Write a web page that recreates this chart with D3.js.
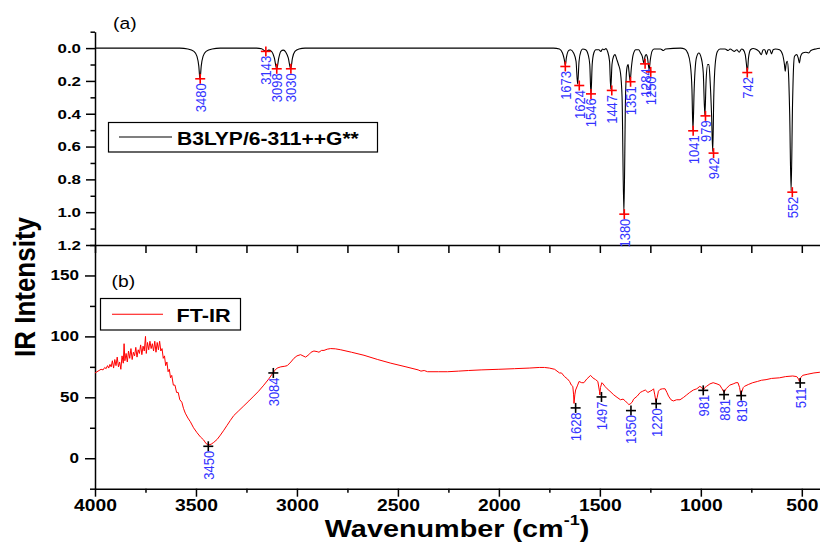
<!DOCTYPE html>
<html><head><meta charset="utf-8">
<script src="https://cdn.jsdelivr.net/npm/d3@7"></script>
<style>
html,body{margin:0;padding:0;background:#fff;}
svg{display:block;}
</style></head>
<body><svg id="chart" width="820" height="544"></svg>
<script>
// ---------------- DATA ----------------
// (a) computed B3LYP spectrum: [wavenumber, intensity]
const spectrumA = [
[4000,0],[3580,0],[3540,0.005],[3510,0.02],[3495,0.05],[3486,0.11],[3480,0.19],[3474,0.11],[3465,0.05],[3450,0.02],[3420,0.005],[3380,0],
[3200,0],[3175,0.004],[3162,0.015],[3154,0.022],[3140,0.012],[3126,0.02],[3112,0.06],[3100,0.126],[3090,0.06],[3080,0.02],[3067,0.012],[3055,0.025],[3043,0.06],[3031,0.126],[3022,0.06],[3010,0.02],[2990,0.005],[2960,0],
[1730,0],[1700,0.005],[1685,0.03],[1676,0.07],[1671,0.105],[1666,0.06],[1655,0.015],[1645,0.01],[1630,0.03],[1618,0.08],[1610,0.22],[1603,0.08],[1594,0.02],[1585,0.005],[1570,0.01],[1558,0.04],[1550,0.1],[1544,0.28],[1538,0.1],[1530,0.03],[1520,0.01],[1505,0.01],[1495,0.02],[1487,0.005],[1478,0.01],[1470,0.003],[1462,0.02],[1452,0.08],[1446,0.25],[1440,0.1],[1432,0.05],[1425,0.04],[1416,0.07],[1408,0.1],[1398,0.15],[1390,0.3],[1381,1.01],[1373,0.3],[1366,0.12],[1360,0.1],[1356,0.14],[1350,0.2],[1344,0.12],[1335,0.04],[1322,0.01],[1308,0.01],[1298,0.03],[1290,0.05],[1282,0.09],[1276,0.05],[1270,0.04],[1264,0.06],[1256,0.13],[1250,0.07],[1242,0.02],[1232,0.005],[1200,0.005],[1185,0.015],[1175,0.005],[1100,0],
[1080,0.005],[1065,0.03],[1052,0.1],[1044,0.25],[1039,0.5],[1033,0.25],[1022,0.06],[1010,0.03],[998,0.06],[988,0.15],[980,0.41],[974,0.2],[966,0.1],[960,0.1],[954,0.2],[947,0.4],[941,0.63],[936,0.3],[929,0.1],[918,0.02],[905,0.005],[880,0.005],[865,0.015],[855,0.005],[835,0.02],[822,0.01],[810,0.025],[798,0.005],[790,0.01],[780,0.04],[774,0.1],[770,0.15],[764,0.06],[754,0.01],[740,0.002],
[730,0.005],[712,0.02],[700,0.04],[692,0.01],[683,0.01],[675,0.04],[667,0.01],[658,0.01],[650,0.035],[642,0.01],[630,0.005],[610,0.01],[595,0.04],[586,0.1],[582,0.14],[578,0.1],[572,0.08],[566,0.15],[560,0.4],[553,0.87],[546,0.35],[541,0.12],[536,0.05],[525,0.04],[518,0.06],[512,0.09],[506,0.05],[496,0.03],[480,0.025],[467,0.03],[455,0.015],[430,0.005],[400,0]
];
// (b) experimental FT-IR spectrum: [wavenumber, intensity]
const spectrumB = [
[4000,70],[3985,71.5],[3970,73],[3960,72.5],[3952,74.5],[3945,73.5],[3938,76],[3932,74],[3926,77],[3920,75],[3914,80],[3908,74],[3902,81],[3896,76],[3890,83],[3884,75],[3878,79],[3872,73],[3866,84],[3860,78],[3856,94],[3852,80],[3846,86],[3840,79],[3834,88],[3828,82],[3822,90],[3816,81],[3810,87],[3804,84],[3798,91],[3792,83],[3786,89],[3780,86],[3774,93],[3768,85],[3762,92],[3756,88],[3750,100],[3746,86],[3740,95],[3734,89],[3728,96],[3722,90],[3716,94],[3710,88],[3704,96],[3698,87],[3692,95],[3686,89],[3680,96],[3674,88],[3668,90],[3662,82],[3656,84],[3650,76],[3644,79],[3638,71],[3632,73],[3626,66],[3620,68],[3612,60],[3604,60],[3596,54],[3588,54],[3580,48],[3570,46],[3562,41],[3553,37],[3540,33],[3528,30],[3512,25],[3495,21],[3478,17.5],[3462,15],[3450,12],[3437,11],[3425,11.5],[3412,13],[3395,15.5],[3379,19],[3362,23],[3346,27],[3330,31],[3313,35],[3288,39],[3263,43],[3238,47],[3214,51],[3190,55],[3164,60],[3140,65],[3123,69],[3110,72],[3098,74],[3080,75],[3060,75.5],[3048,76],[3030,79],[3015,82],[3000,84],[2982,85],[2970,84],[2957,83],[2941,85],[2930,87],[2916,88],[2900,87.5],[2891,87],[2878,88.5],[2866,88.5],[2850,89.5],[2833,90],[2810,89.8],[2783,89],[2730,87],[2668,84.5],[2600,81],[2535,78],[2460,75],[2400,72.5],[2386,71.5],[2370,72],[2353,71],[2300,71],[2254,71],[2200,71.5],[2150,72],[2088,72.5],[2000,73],[1923,73.5],[1850,74],[1800,74.5],[1774,74.5],[1750,74],[1724,73],[1700,70],[1690,70],[1675,67],[1660,65],[1650,63],[1641,60],[1634,59],[1630,52],[1628,45],[1624,52],[1620,56],[1610,60],[1603,63],[1590,62],[1579,62],[1565,65],[1546,68],[1535,66],[1521,64.5],[1510,63],[1502,55],[1500,52],[1497,58],[1490,62],[1484,61],[1475,59],[1464,57],[1450,55],[1431,52],[1415,50],[1398,48],[1385,48.5],[1374,47],[1362,45],[1357,44],[1350,44.5],[1340,46],[1333,48.5],[1315,51],[1300,54],[1288,55],[1275,56],[1262,54],[1251,55],[1240,56],[1234,57],[1228,52],[1222,46],[1216,50],[1210,55],[1202,56.5],[1190,57],[1177,57],[1168,54],[1160,51],[1148,48],[1136,47],[1120,48],[1103,48],[1085,50],[1070,52],[1055,54],[1037,56],[1020,57],[1005,59],[995,58],[988,56],[980,58],[972,59],[955,61],[939,62],[920,61],[906,60],[895,57],[885,54],[875,57],[857,60],[840,61],[826,62],[816,62],[808,58],[802,52],[796,55],[790,58],[784,59],[765,60.5],[743,62],[720,63],[700,64],[677,64.5],[650,65.5],[611,66],[580,67],[545,67.5],[525,67],[516,65],[512,63],[506,66],[496,68],[470,69],[440,70],[414,70.5],[400,70.8]
];
// peak markers (a)
const peakLabelsA = ["3480","3143","3098","3030","1673","1624","1546","1447","1380","1351","1284","1250","1041","979","942","742","552"];
const peakWnA     = [3479,3154,3100,3030,1671,1602,1544,1441,1379,1348,1276,1248,1038,977,937,770,547];
const peakValA    = [0.187,0.02,0.126,0.126,0.112,0.228,0.279,0.258,1.012,0.205,0.096,0.145,0.504,0.413,0.64,0.149,0.878];
// peak markers (b)
const peakLabelsB = ["3450","3084","1628","1497","1350","1220","981","881","819","511"];
const peakWnB     = [3439,3117,1620,1492,1346,1221,988,885,800,508];
const peakValB    = [9.8,70,41.3,50.3,39.1,44.8,55.7,52.2,51.4,61.8];
// ticks
const xTicksMajor = [4000,3500,3000,2500,2000,1500,1000,500];
const xTicksMinor = [3750,3250,2750,2250,1750,1250,750];
const yTicksA = [0,0.2,0.4,0.6,0.8,1.0,1.2];
const yTicksAMinor = [-0.1,0.1,0.3,0.5,0.7,0.9,1.1];
const yTicksB = [0,50,100,150];
const yTicksBMinor = [-25,25,75,125,175];
const legendA = "B3LYP/6-311++G**";
const legendB = "FT-IR";

// ---------------- DRAW ----------------
const svg = d3.select('#chart');
const FONT = "'Liberation Sans', Arial, Helvetica, sans-serif";
const SX = 1.17;
const BLUE = "#3333ff";

const x = d3.scaleLinear().domain([4000,400]).range([95,822]);
const yA = d3.scaleLinear().domain([-0.1,1.2]).range([31.7,245]);
const yB = d3.scaleLinear().domain([-25,175]).range([488.7,245]);

const defs = svg.append('defs');
defs.append('clipPath').attr('id','clipAll').append('rect')
  .attr('x',95).attr('y',0).attr('width',730).attr('height',544);

function styleAxis(g, sw){
  g.selectAll('.domain').attr('stroke','#000').attr('stroke-width',sw);
  g.selectAll('.tick line').attr('stroke','#000').attr('stroke-width',sw);
}

// ---- panel (a) axes
const gAy = svg.append('g').attr('transform','translate(95,0)')
  .call(d3.axisLeft(yA).tickValues(yTicksA).tickSize(9).tickSizeOuter(0).tickFormat(d3.format('.1f')));
styleAxis(gAy,1.5);
gAy.selectAll('.tick text').attr('x',-14/1.25).attr('transform',`scale(1.25,1)`)
  .attr('font-family',FONT).attr('font-weight','bold').attr('font-size',13.5).attr('fill','#000');
const gAyMin = svg.append('g').attr('transform','translate(95,0)')
  .call(d3.axisLeft(yA).tickValues(yTicksAMinor).tickSize(4.5).tickFormat(''));
gAyMin.select('.domain').remove(); styleAxis(gAyMin,1.5);

const gAx = svg.append('g').attr('transform','translate(0,245)')
  .call(d3.axisBottom(x).tickValues(xTicksMajor.concat(xTicksMinor)).tickSize(8).tickSizeOuter(0).tickFormat(''));
styleAxis(gAx,1.5);

// ---- panel (b) axes
const gBy = svg.append('g').attr('transform','translate(95,0)')
  .call(d3.axisLeft(yB).tickValues(yTicksB).tickSize(10).tickSizeOuter(0).tickFormat(d3.format('d')));
styleAxis(gBy,1.5);
gBy.selectAll('.tick text').attr('x',-16/1.22).attr('transform',`scale(1.22,1)`)
  .attr('font-family',FONT).attr('font-weight','bold').attr('font-size',14).attr('fill','#000');
const gByMin = svg.append('g').attr('transform','translate(95,0)')
  .call(d3.axisLeft(yB).tickValues(yTicksBMinor).tickSize(5).tickFormat(''));
gByMin.select('.domain').remove(); styleAxis(gByMin,1.5);

const gBx = svg.append('g').attr('transform','translate(0,488.7)')
  .call(d3.axisBottom(x).tickValues(xTicksMajor).tickSize(8).tickSizeOuter(0).tickPadding(4).tickFormat(d3.format('d')));
styleAxis(gBx,1.5);
gBx.selectAll('.tick text').attr('y',22).attr('dy',0).attr('transform',`scale(${SX},1)`)
  .attr('font-family',FONT).attr('font-weight','bold').attr('font-size',16.5).attr('fill','#000');
const gBxMin = svg.append('g').attr('transform','translate(0,488.7)')
  .call(d3.axisBottom(x).tickValues(xTicksMinor).tickSize(4).tickFormat(''));
gBxMin.select('.domain').remove(); styleAxis(gBxMin,1.5);

// ---- spectra
svg.append('path').datum(spectrumA)
  .attr('clip-path','url(#clipAll)')
  .attr('fill','none').attr('stroke','#000').attr('stroke-width',1.1)
  .attr('d', d3.line().x(d=>x(d[0])).y(d=>yA(d[1])).curve(d3.curveMonotoneX));
svg.append('path').datum(spectrumB)
  .attr('clip-path','url(#clipAll)')
  .attr('fill','none').attr('stroke','#ff0000').attr('stroke-width',1)
  .attr('d', d3.line().x(d=>x(d[0])).y(d=>yB(d[1])));

// ---- peak markers
function drawPeaks(labels, wns, vals, yScale, color){
  const g = svg.append('g');
  labels.forEach((lab,i)=>{
    const cx = x(wns[i]), cy = yScale(vals[i]);
    g.append('line').attr('x1',cx-5).attr('x2',cx+5).attr('y1',cy).attr('y2',cy)
      .attr('stroke',color).attr('stroke-width',1.6);
    g.append('line').attr('x1',cx).attr('x2',cx).attr('y1',cy-5).attr('y2',cy+5)
      .attr('stroke',color).attr('stroke-width',1.6);
    g.append('text').text(lab)
      .attr('transform',`translate(${cx},${cy+4.5}) scale(${SX},1) rotate(-90)`)
      .attr('text-anchor','end').attr('dy','0.36em')
      .attr('font-family',FONT).attr('font-size',13).attr('fill',BLUE);
  });
}
drawPeaks(peakLabelsA, peakWnA, peakValA, yA, '#ff0000');
drawPeaks(peakLabelsB, peakWnB, peakValB, yB, '#000');

// ---- legends
function stretchedText(txt, px, py, size, weight, anchor){
  return svg.append('text').text(txt)
    .attr('transform',`translate(${px},${py}) scale(${SX},1)`)
    .attr('text-anchor',anchor||'start')
    .attr('font-family',FONT).attr('font-size',size).attr('font-weight',weight).attr('fill','#000');
}
svg.append('rect').attr('x',108.5).attr('y',122.5).attr('width',269).attr('height',29.5)
  .attr('fill','#fff').attr('stroke','#000').attr('stroke-width',1.2);
svg.append('line').attr('x1',119).attr('x2',172).attr('y1',137).attr('y2',137).attr('stroke','#000').attr('stroke-width',1.1);
stretchedText(legendA,177,144.5,18,'bold');

svg.append('rect').attr('x',100.5).attr('y',298.5).attr('width',140).attr('height',31.5)
  .attr('fill','#fff').attr('stroke','#000').attr('stroke-width',1.2);
svg.append('line').attr('x1',112).attr('x2',163).attr('y1',314.3).attr('y2',314.3).attr('stroke','#ff0000').attr('stroke-width',1.1);
stretchedText(legendB,176.5,321.5,18.5,'bold');

// ---- panel labels
stretchedText('(a)',113,28.5,16.5,'normal');
stretchedText('(b)',111.5,287,16.5,'normal');

// ---- axis titles
const xt = svg.append('text')
  .attr('transform',`translate(457,536.5) scale(1.2,1)`)
  .attr('text-anchor','middle')
  .attr('font-family',FONT).attr('font-size',24).attr('font-weight','bold').attr('fill','#000');
xt.append('tspan').text('Wavenumber (cm');
xt.append('tspan').text('-1').attr('font-size',15).attr('dy',-12);
xt.append('tspan').text(')').attr('dy',12);

svg.append('text').text('IR Intensity')
  .attr('transform',`translate(24,287) scale(${SX},1) rotate(-90)`)
  .attr('text-anchor','middle').attr('dy','0.36em')
  .attr('font-family',FONT).attr('font-size',26).attr('font-weight','bold').attr('fill','#000');
</script>
</body></html>
